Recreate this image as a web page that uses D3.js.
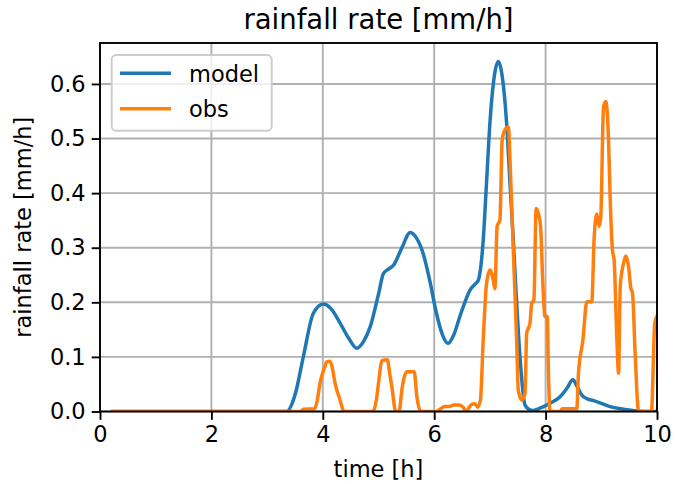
<!DOCTYPE html>
<html>
<head>
<meta charset="utf-8">
<script src="https://cdn.jsdelivr.net/npm/d3@7"></script>
<style>
  html, body { margin: 0; padding: 0; background: #fff; }
  svg { display: block; }
  text { font-family: "DejaVu Sans", sans-serif; fill: #000; }
</style>
</head>
<body>
<svg id="chart" width="676" height="484"></svg>
<script>
// ---- data ----
const titleText = "rainfall rate [mm/h]";
const xLabel = "time [h]";
const yLabel = "rainfall rate [mm/h]";
const xTicks = [0, 2, 4, 6, 8, 10];
const yTicks = [0.0, 0.1, 0.2, 0.3, 0.4, 0.5, 0.6];
const seriesNames = ["model", "obs"];

const modelT = [0.2, 1.0, 2.0, 3.0, 3.35, 3.5, 3.65, 3.83, 4.01, 4.15, 4.31, 4.46, 4.61, 4.73, 4.85, 5.0, 5.09, 5.2, 5.27, 5.42, 5.57, 5.68, 5.8, 5.92, 6.04, 6.15, 6.25, 6.35, 6.46, 6.55, 6.64, 6.72, 6.79, 6.88, 6.94, 7.0, 7.08, 7.15, 7.22, 7.3, 7.36, 7.42, 7.48, 7.54, 7.63, 7.7, 7.78, 7.9, 8.08, 8.26, 8.38, 8.49, 8.57, 8.65, 8.75, 8.86, 9.0, 9.16, 9.35, 9.57, 9.75, 10.0];
const modelV = [0.0, 0.0, 0.0, 0.0, 0.0, 0.03, 0.1, 0.18, 0.197, 0.188, 0.162, 0.135, 0.116, 0.128, 0.155, 0.215, 0.253, 0.262, 0.268, 0.3, 0.328, 0.318, 0.29, 0.24, 0.18, 0.14, 0.125, 0.14, 0.174, 0.2, 0.222, 0.232, 0.24, 0.314, 0.42, 0.528, 0.615, 0.641, 0.615, 0.528, 0.42, 0.314, 0.2, 0.1, 0.012, 0.004, 0.002, 0.006, 0.015, 0.027, 0.042, 0.058, 0.045, 0.03, 0.023, 0.02, 0.015, 0.009, 0.005, 0.002, 0.0, 0.0];

const obsT = [0.2, 1.0, 2.0, 3.0, 3.6, 3.65, 3.85, 3.9, 3.95, 4.03, 4.07, 4.13, 4.18, 4.22, 4.31, 4.38, 4.9, 4.96, 5.0, 5.06, 5.16, 5.2, 5.24, 5.31, 5.37, 5.42, 5.45, 5.51, 5.64, 5.69, 5.76, 6.04, 6.1, 6.19, 6.27, 6.35, 6.45, 6.52, 6.57, 6.66, 6.73, 6.78, 6.83, 6.88, 6.94, 7.0, 7.06, 7.09, 7.13, 7.18, 7.22, 7.27, 7.33, 7.37, 7.42, 7.48, 7.51, 7.57, 7.63, 7.66, 7.72, 7.75, 7.79, 7.83, 7.87, 7.91, 7.95, 7.99, 8.03, 8.05, 8.08, 8.26, 8.3, 8.56, 8.59, 8.67, 8.74, 8.83, 8.87, 8.92, 8.96, 8.99, 9.04, 9.08, 9.13, 9.16, 9.2, 9.23, 9.28, 9.31, 9.34, 9.4, 9.44, 9.49, 9.53, 9.56, 9.61, 9.67, 9.9, 9.96, 10.0];
const obsV = [0.0, 0.0, 0.0, 0.0, 0.0, 0.004, 0.005, 0.02, 0.052, 0.08, 0.091, 0.092, 0.075, 0.052, 0.021, 0.0, 0.0, 0.02, 0.052, 0.093, 0.095, 0.07, 0.045, 0.0, 0.0, 0.04, 0.058, 0.073, 0.073, 0.026, 0.0, 0.0, 0.004, 0.009, 0.009, 0.012, 0.012, 0.008, 0.0, 0.012, 0.014, 0.008, 0.021, 0.131, 0.235, 0.259, 0.241, 0.225, 0.339, 0.351, 0.497, 0.516, 0.521, 0.436, 0.296, 0.131, 0.039, 0.021, 0.033, 0.143, 0.162, 0.198, 0.204, 0.372, 0.363, 0.339, 0.235, 0.174, 0.174, 0.075, 0.0, 0.0, 0.005, 0.005, 0.07, 0.131, 0.201, 0.201, 0.314, 0.362, 0.339, 0.355, 0.558, 0.568, 0.497, 0.388, 0.296, 0.278, 0.131, 0.07, 0.229, 0.272, 0.285, 0.265, 0.226, 0.217, 0.1, 0.0, 0.0, 0.162, 0.175];

const colors = ["#1f77b4", "#ff7f0e"];

// ---- layout ----
const svg = d3.select("#chart");
const mLeft = 100, mRight = 657, mTop = 43, mBottom = 411.5;
const x = d3.scaleLinear().domain([0, 10]).range([mLeft, mRight]);
const y = d3.scaleLinear().domain([0, 0.675]).range([mBottom, mTop]);
const tickFont = 22.5;

svg.append("defs").append("clipPath").attr("id", "clip")
  .append("rect").attr("x", mLeft).attr("y", mTop).attr("width", mRight - mLeft).attr("height", mBottom - mTop);

// grid
const grid = svg.append("g");
grid.selectAll(".gx").data(xTicks).enter().append("line")
  .attr("x1", d => x(d)).attr("x2", d => x(d)).attr("y1", mTop).attr("y2", mBottom)
  .attr("stroke", "#b0b0b0").attr("stroke-width", 1.9);
grid.selectAll(".gy").data(yTicks).enter().append("line")
  .attr("x1", mLeft).attr("x2", mRight).attr("y1", d => y(d)).attr("y2", d => y(d))
  .attr("stroke", "#b0b0b0").attr("stroke-width", 1.9);

// lines
const plot = svg.append("g").attr("clip-path", "url(#clip)");
const modelData = modelT.map((t, i) => [t, modelV[i]]);
const obsData = obsT.map((t, i) => [t, obsV[i]]);
plot.append("path").datum(modelData)
  .attr("d", d3.line().x(d => x(d[0])).y(d => y(d[1])).curve(d3.curveMonotoneX))
  .attr("fill", "none").attr("stroke", colors[0]).attr("stroke-width", 3.5).attr("stroke-linejoin", "round");
plot.append("path").datum(obsData)
  .attr("d", d3.line().x(d => x(d[0])).y(d => y(d[1])).curve(d3.curveMonotoneX))
  .attr("fill", "none").attr("stroke", colors[1]).attr("stroke-width", 3.5).attr("stroke-linejoin", "round");

// axes
const xAxis = d3.axisBottom(x).tickValues(xTicks).tickFormat(d3.format("d")).tickSize(8.3).tickPadding(6);
const yAxis = d3.axisLeft(y).tickValues(yTicks).tickFormat(d3.format(".1f")).tickSize(8.3).tickPadding(6);
const gx = svg.append("g").attr("transform", `translate(0,${mBottom})`).call(xAxis);
const gy = svg.append("g").attr("transform", `translate(${mLeft},0)`).call(yAxis);
[gx, gy].forEach(g => {
  g.select(".domain").remove();
  g.selectAll(".tick line").attr("stroke", "#000").attr("stroke-width", 1.9);
  g.selectAll(".tick text").attr("font-size", tickFont).attr("font-family", "DejaVu Sans").attr("fill", "#000");
});

// frame
svg.append("rect").attr("x", mLeft).attr("y", mTop).attr("width", mRight - mLeft).attr("height", mBottom - mTop)
  .attr("fill", "none").attr("stroke", "#000").attr("stroke-width", 1.9);

// labels
svg.append("text").attr("x", (mLeft + mRight) / 2).attr("y", 28.5).attr("text-anchor", "middle")
  .attr("font-size", 27.5).text(titleText);
svg.append("text").attr("x", (mLeft + mRight) / 2).attr("y", 477).attr("text-anchor", "middle")
  .attr("font-size", tickFont).text(xLabel);
svg.append("text").attr("transform", `translate(31,${(mTop + mBottom) / 2}) rotate(-90)`).attr("text-anchor", "middle")
  .attr("font-size", tickFont).text(yLabel);

// legend
const lg = svg.append("g");
lg.append("rect").attr("x", 111.7).attr("y", 55).attr("width", 160).attr("height", 75.7).attr("rx", 4.5)
  .attr("fill", "#fff").attr("fill-opacity", 0.8).attr("stroke", "#cccccc").attr("stroke-width", 1.9);
seriesNames.forEach((name, i) => {
  const yy = 73.3 + i * 35.5;
  lg.append("line").attr("x1", 120).attr("x2", 171).attr("y1", yy).attr("y2", yy)
    .attr("stroke", colors[i]).attr("stroke-width", 3.5);
  lg.append("text").attr("x", 189).attr("y", yy + 8.5).attr("font-size", tickFont).text(name);
});
</script>
</body>
</html>
